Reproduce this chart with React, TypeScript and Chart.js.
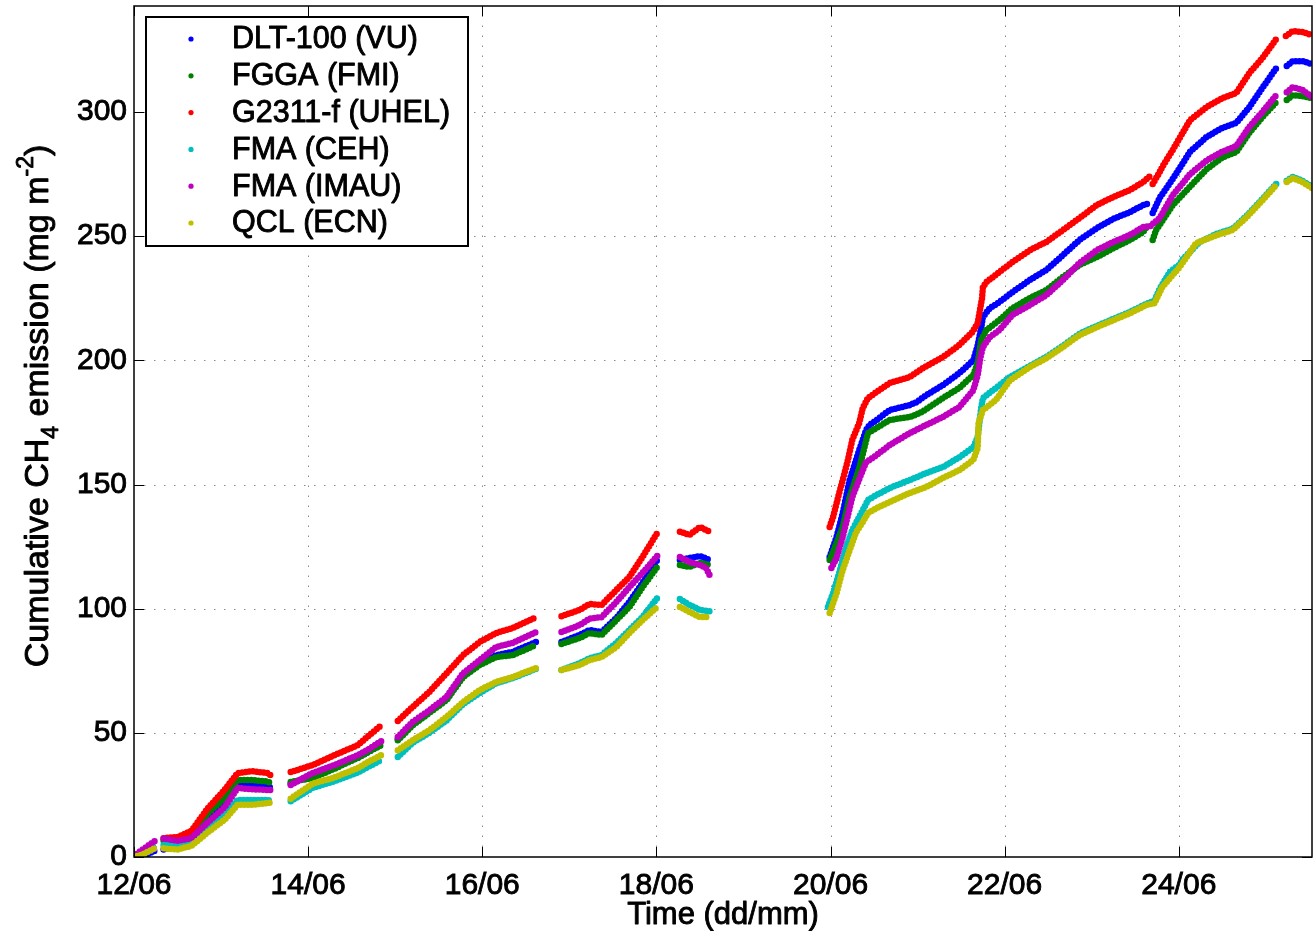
import React, { useEffect, useRef } from "react";
import { Chart, registerables } from "chart.js";

Chart.register(...registerables);

type P = [number, number] | null;

// x = days since 12/06 00:00, y = cumulative CH4 emission (mg m-2)
const seriesNames = ["DLT-100 (VU)", "FGGA (FMI)", "G2311-f (UHEL)", "FMA (CEH)", "FMA (IMAU)", "QCL (ECN)"];
const seriesColors = ["#0000ff", "#008000", "#ff0000", "#00bfbf", "#bf00bf", "#bfbf00"];
const xTickLabels = ["12/06", "14/06", "16/06", "18/06", "20/06", "22/06", "24/06"];
const xAxisTitle = "Time (dd/mm)";
const yTitleParts: [string, string][] = [
  ["Cumulative CH", "n"],
  ["4", "sub"],
  [" emission (mg m", "n"],
  ["-2", "sup"],
  [")", "n"],
];

const dltVU: P[] = [
  [0, -0.5], [0.1, 0.3], [0.24, 2.5], null,
  [0.34, 3], [0.5, 4.5], [0.66, 8], [0.85, 15.7], [1.04, 21.7], [1.19, 29], [1.35, 29], [1.53, 28.6], [1.58, 27.8], null,
  [1.8, 29.5], [2.05, 33], [2.3, 36], [2.57, 40], [2.7, 42.5], [2.84, 45.5], null,
  [3.03, 47.5], [3.2, 53.5], [3.39, 58.5], [3.59, 63.7], [3.78, 73], [3.97, 77.8], [4.16, 81.3], [4.35, 82.6], [4.62, 86.6], null,
  [4.91, 86.6], [5.12, 89.4], [5.23, 91.4], [5.37, 90.6], [5.54, 96.2], [5.69, 102.7], [5.84, 110.3], [6.01, 119.6], null,
  [6.27, 119.6], [6.38, 120.4], [6.5, 121.2], [6.61, 119.6], null,
  [7.99, 120.8], [8.07, 128.9], [8.14, 138.5], [8.22, 151.8], [8.33, 163.9], [8.41, 172], [8.45, 174], [8.53, 176], [8.68, 180], [8.91, 182], [8.99, 183.2], [9.1, 186], [9.29, 190], [9.48, 194.9], [9.64, 200], [9.69, 206], [9.73, 213], [9.75, 217.5], [9.83, 221], [9.94, 223.5], [10.09, 227.5], [10.29, 232.4], [10.48, 236.4], [10.67, 242.4], [10.86, 248.5], [11.06, 253.3], [11.25, 257], [11.44, 259.7], [11.59, 262.5], [11.67, 263.3], null,
  [11.7, 259.3], [11.78, 265.4], [11.93, 273], [12.13, 284], [12.32, 290], [12.5, 293.6], [12.66, 295.6], [12.81, 302], [12.96, 309.7], [13.12, 317.7], null,
  [13.24, 318.5], [13.31, 320.5], [13.42, 320.5], [13.53, 319.3],
];

const fggaFMI: P[] = [
  [0, 0], [0.1, 1], [0.24, 4], null,
  [0.34, 6.5], [0.5, 6], [0.66, 9], [0.85, 17.7], [1.04, 23.7], [1.19, 31], [1.35, 31], [1.53, 30.4], [1.58, 29.8], null,
  [1.8, 30.2], [2.05, 31.8], [2.3, 35.5], [2.57, 39.9], [2.7, 42.5], [2.84, 45], null,
  [3.03, 47], [3.2, 53], [3.39, 58], [3.59, 63.2], [3.78, 72.5], [3.97, 77.3], [4.16, 80.5], [4.35, 81.3], [4.62, 85.4], null,
  [4.91, 85.8], [5.12, 88.2], [5.23, 90.2], [5.37, 89.4], [5.54, 95.4], [5.69, 100.7], [5.84, 108.7], [6.01, 116.8], null,
  [6.27, 117.6], [6.38, 116.8], [6.5, 118.4], [6.61, 117.6], null,
  [7.99, 119.6], [8.07, 126.4], [8.14, 133], [8.22, 145], [8.33, 156.6], [8.43, 170.7], [8.53, 172.8], [8.68, 176], [8.91, 177.2], [9.03, 178.8], [9.29, 184.8], [9.48, 188.9], [9.64, 194.1], [9.69, 198.9], [9.73, 208.2], [9.79, 212.2], [9.94, 216.2], [10.09, 221], [10.29, 225.1], [10.48, 228.3], [10.67, 233.6], [10.86, 238.4], [11.06, 241.6], [11.25, 245.2], [11.44, 248.5], [11.59, 251.7], [11.63, 253.7], null,
  [11.7, 248.5], [11.74, 252.5], [11.78, 254.5], [11.93, 262.5], [12.13, 270], [12.32, 277], [12.5, 281.7], [12.66, 283.9], [12.81, 291.6], [12.96, 298], [13.12, 304], null,
  [13.24, 304.8], [13.31, 306.8], [13.42, 306.4], [13.53, 305.6],
];

const g2311UHEL: P[] = [
  [0, 0], [0.1, 1.5], [0.24, 5.5], null,
  [0.34, 7.6], [0.5, 8], [0.66, 10.5], [0.85, 19.7], [1.04, 27], [1.19, 33.8], [1.35, 34.6], [1.53, 33.8], [1.58, 32.6], null,
  [1.8, 34.2], [2.05, 37], [2.3, 41], [2.57, 45], [2.7, 49], [2.84, 53], null,
  [3.03, 54.8], [3.2, 60.4], [3.39, 66.4], [3.59, 74], [3.78, 81.3], [3.97, 86.6], [4.16, 90.2], [4.35, 92.2], [4.62, 96.6], null,
  [4.91, 97], [5.12, 99.5], [5.23, 101.9], [5.37, 101.5], [5.54, 107.5], [5.69, 112.8], [5.84, 120.8], [6.01, 130.5], null,
  [6.27, 131], [6.38, 129.7], [6.5, 132.9], [6.61, 131], null,
  [7.99, 132.9], [8.03, 137], [8.1, 146.6], [8.14, 151.8], [8.2, 159.9], [8.25, 168], [8.33, 174.8], [8.37, 180.8], [8.43, 184.8], [8.53, 187.3], [8.68, 190.9], [8.91, 193.3], [9.06, 196.9], [9.29, 201.3], [9.48, 206.2], [9.63, 211.4], [9.69, 215], [9.74, 225], [9.75, 229.5], [9.79, 231.5], [9.94, 235.6], [10.09, 239.6], [10.29, 244.4], [10.48, 247.7], [10.67, 252.5], [10.86, 257.3], [11.06, 262.6], [11.25, 265.8], [11.44, 268.6], [11.59, 271.8], [11.67, 274.2], null,
  [11.7, 271], [11.78, 275.8], [11.81, 277.9], [11.93, 284.7], [12.13, 296.8], [12.32, 302], [12.5, 305.6], [12.66, 307.7], [12.81, 315.7], [12.96, 321.7], [13.12, 329.4], null,
  [13.23, 330.6], [13.31, 332.6], [13.42, 332.2], [13.53, 331],
];

const fmaCEH: P[] = [
  [0, 0], [0.1, 1.5], [0.24, 4.5], null,
  [0.34, 4.8], [0.5, 4.8], [0.66, 6], [0.85, 12.9], [1.04, 17], [1.19, 23], [1.35, 23], [1.53, 23], [1.58, 22.5], null,
  [1.8, 22.5], [2.05, 27.8], [2.3, 30.5], [2.57, 34], [2.7, 36.5], [2.84, 39], null,
  [3.03, 40.3], [3.2, 46], [3.39, 50], [3.59, 55], [3.78, 61.6], [3.97, 66], [4.16, 70], [4.35, 72], [4.62, 75.8], null,
  [4.91, 75.3], [5.12, 78], [5.23, 80], [5.37, 81.3], [5.54, 86.2], [5.69, 91.4], [5.84, 96.6], [6.01, 104.3], null,
  [6.27, 103.9], [6.38, 101.5], [6.5, 99.5], [6.61, 99], null,
  [7.97, 100.7], [8.03, 106.3], [8.1, 114.4], [8.17, 123.6], [8.25, 131.7], [8.33, 137], [8.39, 141], [8.43, 143.8], [8.53, 145.8], [8.68, 148.6], [8.91, 151.8], [9.1, 154.6], [9.29, 157], [9.48, 161], [9.64, 165], [9.69, 169.1], [9.73, 180.8], [9.75, 184.8], [9.9, 188.9], [10.06, 193.3], [10.29, 197.8], [10.48, 201.4], [10.67, 205.9], [10.86, 210.7], [11.06, 213.9], [11.25, 216.7], [11.44, 219.5], [11.63, 222.8], [11.72, 224], [11.78, 228.8], [11.9, 235.7], [12.01, 238.6], [12.05, 240.9], [12.24, 247.7], [12.44, 251], [12.62, 253], [12.78, 258.2], [12.93, 263.8], [13.12, 271.1], null,
  [13.24, 272.3], [13.31, 273.9], [13.42, 272.3], [13.53, 269.9],
];

const fmaIMAU: P[] = [
  [0, 0.5], [0.1, 3], [0.24, 6.5], null,
  [0.34, 7.5], [0.5, 6.5], [0.66, 7.6], [0.85, 14], [1.04, 20], [1.19, 27.8], [1.35, 27.3], [1.53, 27], [1.58, 27], null,
  [1.8, 29], [2.05, 33.8], [2.3, 37], [2.57, 41], [2.7, 43.5], [2.84, 46.7], null,
  [3.03, 48.3], [3.2, 54.4], [3.39, 59], [3.59, 64.5], [3.78, 74], [3.97, 79.3], [4.16, 84.6], [4.35, 86.2], [4.62, 90.6], null,
  [4.91, 90.6], [5.12, 93.4], [5.23, 96], [5.37, 96.6], [5.54, 102.7], [5.69, 108.7], [5.84, 114.4], [6.01, 121.2], null,
  [6.27, 120.8], [6.38, 118.8], [6.5, 117.6], [6.57, 116.4], [6.61, 113.6], null,
  [8.01, 116.4], [8.07, 120.4], [8.14, 128.9], [8.25, 145], [8.37, 155.8], [8.41, 159], [8.53, 161.9], [8.68, 165.9], [8.91, 170.7], [9.1, 174], [9.29, 177.2], [9.48, 181.2], [9.64, 188], [9.69, 194], [9.72, 200.9], [9.75, 205.4], [9.83, 209.4], [9.94, 212.2], [10.09, 218.3], [10.29, 222.3], [10.48, 226.3], [10.67, 232.4], [10.86, 239.2], [11.06, 244.4], [11.25, 247.7], [11.44, 250.5], [11.59, 253.7], [11.67, 254], [11.78, 257.3], [11.93, 266.5], [12.13, 275], [12.32, 280.5], [12.5, 284], [12.66, 286.3], [12.81, 294], [12.96, 300], [13.12, 306.8], null,
  [13.24, 308], [13.31, 310], [13.42, 308.9], [13.53, 306],
];

const qclECN: P[] = [
  [0, 0], [0.1, 1], [0.24, 3.5], null,
  [0.34, 3.5], [0.5, 3], [0.66, 4.5], [0.85, 10], [1.04, 15], [1.19, 21], [1.35, 21], [1.53, 21.7], [1.58, 22], null,
  [1.8, 23.5], [2.05, 29.5], [2.3, 32], [2.57, 35.8], [2.7, 38.5], [2.84, 41], null,
  [3.03, 43], [3.2, 47], [3.39, 51], [3.59, 56.4], [3.78, 62.4], [3.97, 67.2], [4.16, 70.5], [4.35, 72.5], [4.62, 76.1], null,
  [4.91, 75.3], [5.12, 77.3], [5.23, 79.3], [5.37, 80.5], [5.54, 84.6], [5.69, 90.2], [5.84, 95.4], [6.01, 100.7], null,
  [6.27, 100.7], [6.38, 98.7], [6.5, 96.6], [6.61, 96.6], null,
  [7.99, 98.3], [8.07, 106.3], [8.14, 115.6], [8.22, 123.6], [8.29, 130.5], [8.37, 134.9], [8.43, 138.5], [8.53, 140.5], [8.68, 143], [8.91, 146.6], [9.1, 149], [9.29, 152.6], [9.48, 155.8], [9.64, 159.9], [9.69, 164.7], [9.7, 174.8], [9.75, 180], [9.9, 184], [10.06, 192], [10.29, 197.3], [10.48, 200.9], [10.67, 205.4], [10.86, 210.2], [11.06, 213.4], [11.25, 216.2], [11.44, 219], [11.63, 222.3], [11.72, 223], [11.81, 229.5], [12.01, 237.6], [12.2, 247.2], [12.44, 250.5], [12.62, 252.5], [12.78, 257.7], [12.93, 263.3], [13.12, 270.6], null,
  [13.24, 271.8], [13.31, 273.4], [13.42, 271.8], [13.53, 269.4],
];

const seriesData: P[][] = [dltVU, fggaFMI, g2311UHEL, fmaCEH, fmaIMAU, qclECN];

const X_MIN = 0;
const X_MAX = 13.53;
const Y_MIN = 0;
const Y_MAX = 342.7;

const FONT_FAMILY = '"Liberation Sans", Arial, Helvetica, sans-serif';
const TEXT_STROKE = 0.9;

function toXY(arr: P[]) {
  const out: { x: number; y: number | null }[] = [];
  let lastX = 0;
  for (const p of arr) {
    if (p === null) {
      out.push({ x: lastX + 0.001, y: null });
    } else {
      out.push({ x: p[0], y: p[1] });
      lastX = p[0];
    }
  }
  return out;
}

function heavyText(ctx: CanvasRenderingContext2D, txt: string, x: number, y: number) {
  ctx.lineWidth = TEXT_STROKE;
  ctx.strokeStyle = ctx.fillStyle as string;
  ctx.lineJoin = "round";
  ctx.strokeText(txt, x, y);
  ctx.fillText(txt, x, y);
}

const framePlugin = {
  id: "matlabFrame",
  beforeDatasetsDraw(chart: any) {
    const { ctx, chartArea: a, scales } = chart;
    const xs = scales.x;
    const ys = scales.y;
    ctx.save();
    ctx.strokeStyle = "#8a8a8a";
    ctx.lineWidth = 1;
    ctx.setLineDash([1.5, 8.5]);
    for (const t of xs.ticks) {
      const px = Math.round(xs.getPixelForValue(t.value)) + 0.5;
      if (px <= a.left + 2 || px >= a.right - 2) continue;
      ctx.beginPath();
      ctx.moveTo(px, a.bottom);
      ctx.lineTo(px, a.top);
      ctx.stroke();
    }
    for (const t of ys.ticks) {
      const py = Math.round(ys.getPixelForValue(t.value)) + 0.5;
      if (py <= a.top + 2 || py >= a.bottom - 2) continue;
      ctx.beginPath();
      ctx.moveTo(a.left, py);
      ctx.lineTo(a.right, py);
      ctx.stroke();
    }
    ctx.restore();
  },
  afterDatasetsDraw(chart: any) {
    const { ctx, chartArea: a, scales } = chart;
    const xs = scales.x;
    const ys = scales.y;
    ctx.save();
    ctx.setLineDash([]);
    // inward tick marks
    ctx.strokeStyle = "#000";
    ctx.lineWidth = 1;
    const tl = 10;
    for (const t of xs.ticks) {
      const px = Math.round(xs.getPixelForValue(t.value)) + 0.5;
      ctx.beginPath();
      ctx.moveTo(px, a.bottom);
      ctx.lineTo(px, a.bottom - tl);
      ctx.moveTo(px, a.top);
      ctx.lineTo(px, a.top + tl);
      ctx.stroke();
    }
    for (const t of ys.ticks) {
      const py = Math.round(ys.getPixelForValue(t.value)) + 0.5;
      ctx.beginPath();
      ctx.moveTo(a.left, py);
      ctx.lineTo(a.left + tl, py);
      ctx.moveTo(a.right, py);
      ctx.lineTo(a.right - tl, py);
      ctx.stroke();
    }
    // box
    ctx.lineWidth = 1.5;
    ctx.strokeRect(a.left, a.top, a.right - a.left, a.bottom - a.top);

    // legend
    const lx = 146, ly = 17, lw = 322, lh = 229;
    ctx.fillStyle = "#fff";
    ctx.fillRect(lx, ly, lw, lh);
    ctx.lineWidth = 2;
    ctx.strokeStyle = "#000";
    ctx.strokeRect(lx, ly, lw, lh);
    ctx.font = `30.5px ${FONT_FAMILY}`;
    ctx.textBaseline = "middle";
    ctx.textAlign = "left";
    seriesNames.forEach((name, i) => {
      const ry = 39 + i * 36.8;
      ctx.fillStyle = seriesColors[i];
      ctx.beginPath();
      ctx.arc(191, ry, 2.6, 0, Math.PI * 2);
      ctx.fill();
      ctx.fillStyle = "#000";
      heavyText(ctx, name, 232, ry + 1);
    });

    // x axis title
    ctx.font = `31px ${FONT_FAMILY}`;
    ctx.textAlign = "center";
    ctx.textBaseline = "alphabetic";
    ctx.fillStyle = "#000";
    heavyText(ctx, xAxisTitle, (a.left + a.right) / 2, 924);

    // y axis title with sub/superscripts
    const mainFont = `34px ${FONT_FAMILY}`;
    const smallFont = `23px ${FONT_FAMILY}`;
    let total = 0;
    const widths = yTitleParts.map(([txt, kind]) => {
      ctx.font = kind === "n" ? mainFont : smallFont;
      const w = ctx.measureText(txt).width;
      total += w;
      return w;
    });
    ctx.translate(48, 406);
    ctx.rotate(-Math.PI / 2);
    ctx.textAlign = "left";
    let cx = -total / 2;
    yTitleParts.forEach(([txt, kind], i) => {
      ctx.font = kind === "n" ? mainFont : smallFont;
      const dy = kind === "sub" ? 10 : kind === "sup" ? -15 : 0;
      heavyText(ctx, txt, cx, dy);
      cx += widths[i];
    });
    ctx.restore();
  },
};

export default function App() {
  const canvasRef = useRef<HTMLCanvasElement | null>(null);

  useEffect(() => {
    const canvas = canvasRef.current;
    if (!canvas) return;
    const datasets = seriesData.map((arr, i) => ({
      label: seriesNames[i],
      data: toXY(arr),
      borderColor: seriesColors[i],
      backgroundColor: seriesColors[i],
      borderWidth: 6.5,
      borderDash: [0, 3.6],
      borderCapStyle: "round" as const,
      borderJoinStyle: "round" as const,
      pointRadius: 0,
      pointHoverRadius: 0,
      spanGaps: false,
      tension: 0,
      fill: false,
      order: seriesData.length - 1 - i,
    }));
    const tickFont = { family: FONT_FAMILY, size: 30 };
    const chart = new Chart(canvas, {
      type: "line",
      data: { datasets },
      options: {
        responsive: false,
        animation: false,
        events: [],
        layout: { padding: { top: 6, right: 3, left: 0, bottom: 0 } },
        plugins: {
          legend: { display: false },
          tooltip: { enabled: false },
          title: { display: false },
        },
        scales: {
          x: {
            type: "linear",
            min: X_MIN,
            max: X_MAX,
            grid: { display: false, drawTicks: false },
            border: { display: false },
            ticks: {
              stepSize: 2,
              includeBounds: false,
              autoSkip: false,
              maxRotation: 0,
              minRotation: 0,
              padding: 11,
              color: "#000",
              textStrokeColor: "#000",
              textStrokeWidth: TEXT_STROKE,
              font: tickFont,
              callback: (v: any) => xTickLabels[Math.round(Number(v) / 2)] ?? "",
            },
            afterFit: (s: any) => {
              s.height = 74;
              s.paddingLeft = 0;
              s.paddingRight = 0;
            },
          },
          y: {
            type: "linear",
            min: Y_MIN,
            max: Y_MAX,
            grid: { display: false, drawTicks: false },
            border: { display: false },
            ticks: {
              stepSize: 50,
              includeBounds: false,
              padding: 7,
              color: "#000",
              textStrokeColor: "#000",
              textStrokeWidth: TEXT_STROKE,
              font: tickFont,
            },
            afterFit: (s: any) => {
              s.width = 134;
              s.paddingTop = 0;
              s.paddingBottom = 0;
            },
          },
        },
      } as any,
      plugins: [framePlugin],
    });
    return () => chart.destroy();
  }, []);

  return (
    <div style={{ position: "absolute", left: 0, top: 0, width: 1315, height: 931, background: "#fff" }}>
      <canvas ref={canvasRef} width={1315} height={931} style={{ display: "block" }} />
    </div>
  );
}
